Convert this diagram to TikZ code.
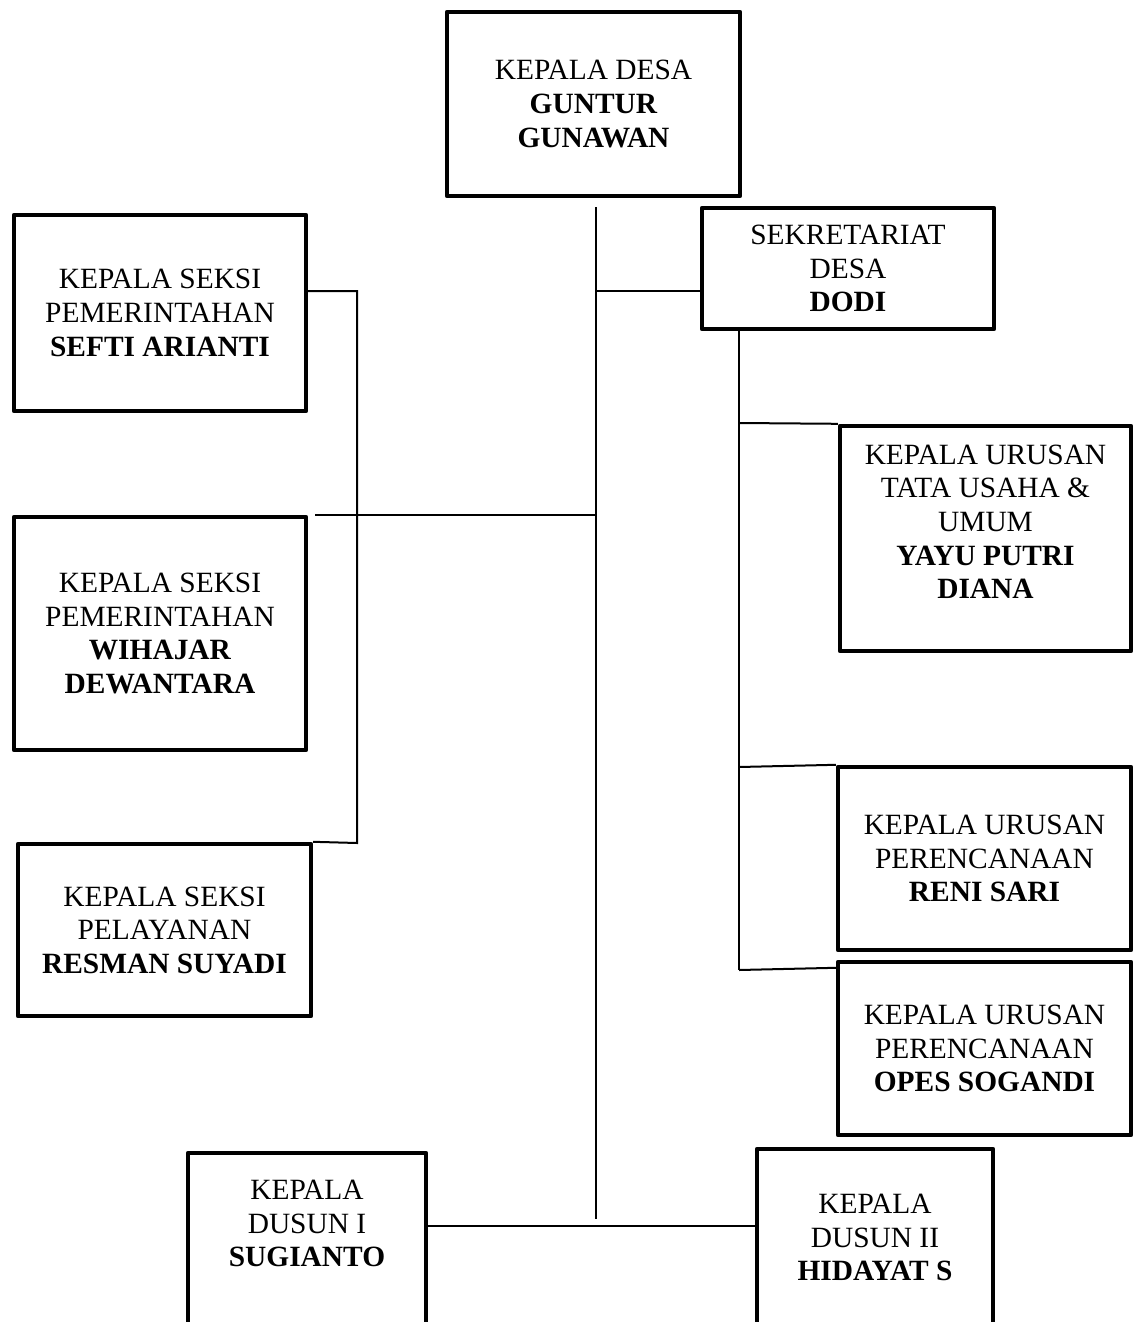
\documentclass[tikz,border=0pt]{standalone}
\usepackage{fontspec}
\setmainfont{Liberation Serif}

\begin{document}
\begin{tikzpicture}[x=0.5pt, y=-0.5pt,
    box/.style={draw, line width=2.2pt, line join=round, align=center, inner sep=0pt,
        font=\fontsize{14.7}{16.8}\selectfont},
    link/.style={line width=1pt}]
    \useasboundingbox (0,0) rectangle (1133,1322);

    % Kepala desa
    \node[box, minimum width=146.5pt, minimum height=92pt] (desa) at (593.5,104)
        {KEPALA DESA\\\textbf{GUNTUR}\\\textbf{GUNAWAN}};

    % Sekretariat
    \node[box, minimum width=146pt, minimum height=60.5pt] (sekre) at (848,268.5)
        {SEKRETARIAT\\DESA\\\textbf{DODI}};

    % Kepala seksi (left)
    \node[box, minimum width=146pt, minimum height=98pt] (sefti) at (160,313)
        {KEPALA SEKSI\\PEMERINTAHAN\\\textbf{SEFTI ARIANTI}};
    \node[box, minimum width=146pt, minimum height=116.5pt] (wihajar) at (160,633.5)
        {KEPALA SEKSI\\PEMERINTAHAN\\\textbf{WIHAJAR}\\\textbf{DEWANTARA}};
    \node[box, minimum width=146.5pt, minimum height=86pt] (resman) at (164.5,930)
        {KEPALA SEKSI\\PELAYANAN\\\textbf{RESMAN SUYADI}};

    % Kepala urusan (right)
    \node[box, minimum width=145.5pt, minimum height=112.5pt] (yayu) at (985.5,538.5)
        {KEPALA URUSAN\\TATA USAHA \&\\UMUM\\\textbf{YAYU PUTRI}\\\textbf{DIANA}\\~};
    \node[box, minimum width=146.5pt, minimum height=91.5pt] (reni) at (984.5,858.5)
        {KEPALA URUSAN\\PERENCANAAN\\\textbf{RENI SARI}};
    \node[box, minimum width=146.5pt, minimum height=86.5pt] (opes) at (984.5,1048.5)
        {KEPALA URUSAN\\PERENCANAAN\\\textbf{OPES SOGANDI}};

    % Kepala dusun
    \node[box, minimum width=119pt, minimum height=104pt] (sugianto) at (307,1257)
        {KEPALA\\DUSUN I\\\textbf{SUGIANTO}\\~\\~};
    \node[box, minimum width=118pt, minimum height=122pt] (hidayat) at (875,1271)
        {KEPALA\\DUSUN II\\\textbf{HIDAYAT S}\\~\\~};

    % Main line
    \coordinate (trunktop) at (596,207);
    \coordinate (trunkbot) at (596,1219);
    \draw[link] (trunktop) -- (trunkbot);
    \draw[link] (596,291) -- (sekre.west |- 0,291);

    % Seksi
    \draw[link] (sefti.east |- 0,291) -| (357,843) -- (resman.north east);
    \draw[link] ([xshift=3.5pt]wihajar.north east) -- (wihajar.north east -| trunktop);

    % Urusan
    \coordinate (sektop) at (739,331);
    \coordinate (sekbot) at (739,970);
    \draw[link] (sektop) -- (sekbot);
    \draw[link] (739,423) -- (yayu.north west);
    \draw[link] (739,767) -- (reni.north west);
    \draw[link] (sekbot) -- ([yshift=-4pt]opes.north west);

    % Dusun
    \draw[link] (sugianto.east |- 0,1226) -- (hidayat.west |- 0,1226);
\end{tikzpicture}
\end{document}
